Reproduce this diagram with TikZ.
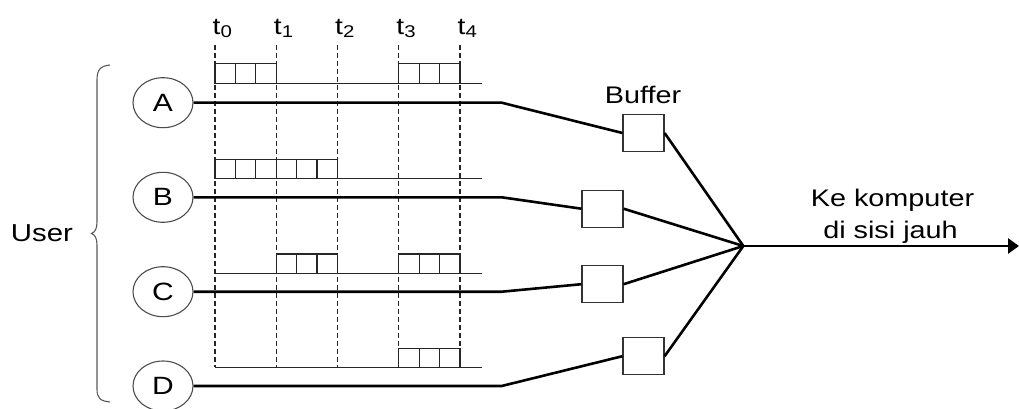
\documentclass[tikz,border=0pt]{standalone}
\usepackage{fontspec}
\setmainfont{Liberation Sans}
\usetikzlibrary{shapes.geometric,arrows.meta}
\newcommand{\wide}[2]{\scalebox{1.2}[1]{\fontsize{#1}{#1}\selectfont #2}}
\newcommand{\tlab}[1]{\scalebox{1.2}[1]{\fontsize{23.5}{23.5}\selectfont t\raisebox{-3pt}{\fontsize{17}{17}\selectfont #1}}}
\begin{document}
\begin{tikzpicture}[x=1pt,y=-1pt,
  user/.style={ellipse,draw=black!70,line width=1.1pt,minimum width=60pt,minimum height=50pt,inner sep=0pt},
  bufbox/.style={rectangle,draw=black!80,line width=1.2pt,minimum width=41pt,minimum height=37pt,inner sep=0pt},
  link/.style={line width=2.6pt,black},
  slot/.style={draw=black!85,line width=1.2pt},
  tick/.style={draw=black!85,line width=1.2pt,dash pattern=on 5pt off 3pt},
  lbl/.style={inner sep=0pt,anchor=base}]
\useasboundingbox (0,0) rectangle (1019,409);
\def\cw{20.4167}

% time marks
\foreach \x/\i in {215/0,276.25/1,337.5/2,398.75/3,460/4}{
  \draw[tick] (\x,45) -- (\x,367.3);
  \node[lbl,anchor=base west] (t\i) at (\x-2.5,35) {\tlab{\i}};
}

% time lines with transmitted slots
\foreach \y in {83.3,178.3,273.3}{\draw[slot] (215,\y) -- (481.7,\y);}
\draw[slot] (215,367.3) -- (481.7,367.3);
% A: t0-t1 and t3-t4
\foreach \k in {0,1,2}{
  \draw[slot] (215+\k*\cw,63.3) rectangle ++(\cw,20);
  \draw[slot] (398.75+\k*\cw,63.3) rectangle ++(\cw,20);}
% B: t0-t2
\foreach \k in {0,...,5}{\draw[slot] (215+\k*\cw,159.3) rectangle ++(\cw,19);}
% C: t1-t2 and t3-t4
\foreach \k in {0,1,2}{
  \draw[slot] (276.25+\k*\cw,254) rectangle ++(\cw,19.3);
  \draw[slot] (398.75+\k*\cw,254) rectangle ++(\cw,19.3);}
% D: t3-t4
\foreach \k in {0,1,2}{\draw[slot] (398.75+\k*\cw,348.3) rectangle ++(\cw,19);}

% users
\node[user] (uA) at (163,102.7) {\wide{25}{A}};
\node[user] (uB) at (163,197.3) {\wide{25}{B}};
\node[user] (uC) at (163,291.7) {\wide{25}{C}};
\node[user] (uD) at (163,386) {\wide{25}{D}};

% buffers
\node[bufbox] (bA) at (643.5,133) {};
\node[bufbox] (bB) at (602.5,208.7) {};
\node[bufbox] (bC) at (602.5,284.2) {};
\node[bufbox] (bD) at (643.5,356.2) {};
\node[lbl] (buflabel) at (643,104) {\wide{24}{Buffer}};

% bends and hub
\coordinate (kA) at (501.7,102.7);
\coordinate (kB) at (501.7,197.3);
\coordinate (kC) at (501.7,291.7);
\coordinate (kD) at (501.7,386);
\coordinate (hub) at (743.3,246);
\coordinate (far) at (1019,246);

\draw[link] (uA.east) -- (kA) -- (bA.west);
\draw[link] (uB.east) -- (kB) -- (bB.west);
\draw[link] (uC.east) -- (kC) -- (bC.west);
\draw[link] (uD.east) -- (kD) -- (bD.west);
\draw[link] (bA.east) -- (hub);
\draw[link] (bB.east) -- (hub);
\draw[link] (bC.east) -- (hub);
\draw[link] (bD.east) -- (hub);
\draw[link,-{Triangle[length=11pt,width=15pt]}] (hub) -- (far);

\node[lbl] (dest1) at (892.5,206.7) {\wide{24}{Ke komputer}};
\node[lbl] (dest2) at (890.5,238.3) {\wide{24}{di sisi jauh}};

% user group brace
\node[lbl] (users) at (42,241.7) {\wide{24.5}{User}};
\draw[black!65,line width=1.1pt] (110,65) .. controls (100,66) and (97,70) .. (97,80)
  -- (97,222) .. controls (97,229) and (95,232) .. (91.5,233.5)
  .. controls (95,235) and (97,238) .. (97,245)
  -- (97,389) .. controls (97,398) and (100,401) .. (110,402);
\end{tikzpicture}
\end{document}
